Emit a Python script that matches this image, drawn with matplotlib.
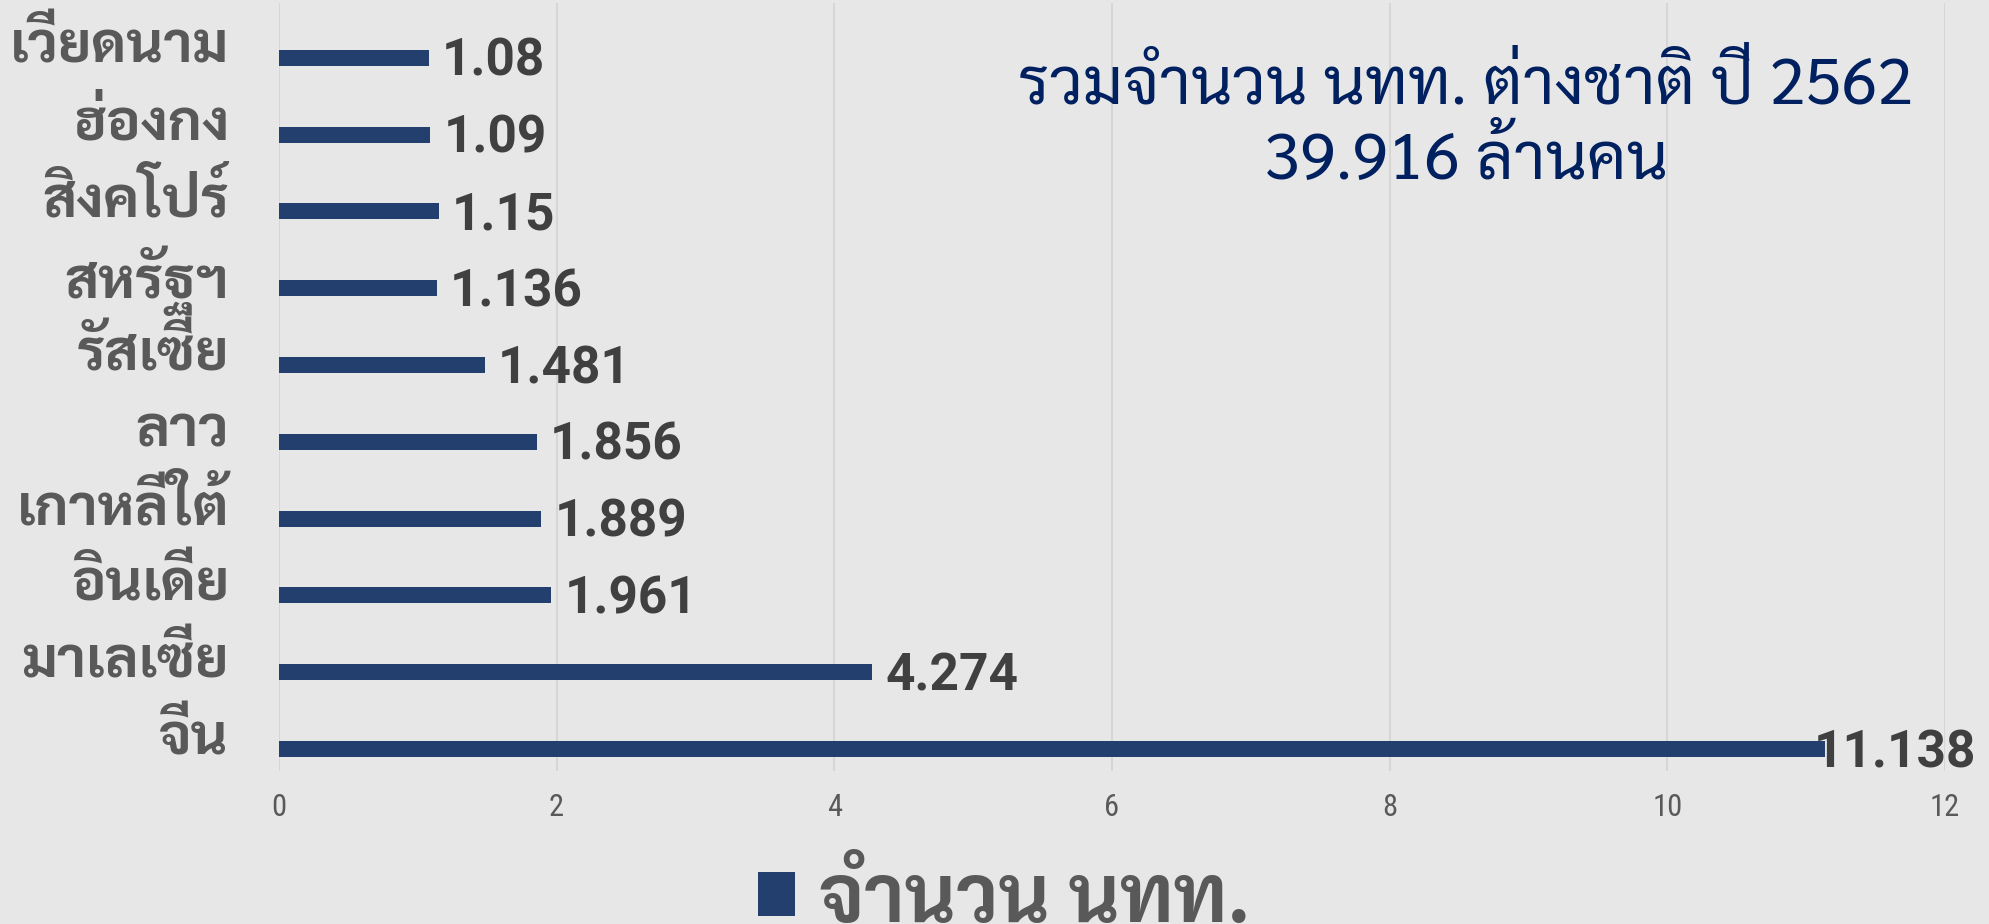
import matplotlib
matplotlib.use("Agg")
import matplotlib.pyplot as plt

# ---- data ----
countries = ["จีน", "มาเลเซีย", "อินเดีย", "เกาหลีใต้", "ลาว",
             "รัสเซีย", "สหรัฐฯ", "สิงคโปร์", "ฮ่องกง", "เวียดนาม"]
visitors = [11.138, 4.274, 1.961, 1.889, 1.856, 1.481, 1.136, 1.15, 1.09, 1.08]
value_labels = ["11.138", "4.274", "1.961", "1.889", "1.856",
                "1.481", "1.136", "1.15", "1.09", "1.08"]
x_ticks = [0, 2, 4, 6, 8, 10, 12]
series_name = "จำนวน นทท."
title_lines = ["รวมจำนวน นทท. ต่างชาติ ปี 2562", "39.916 ล้านคน"]

BG = "#e7e7e7"
BAR = "#223f6e"
GRAY = "#595959"
DARK = "#404040"
NAVY = "#002060"
THAI = ["Sarabun", "DejaVu Sans"]
NUM = ["Roboto", "DejaVu Sans"]
TICK = ["Roboto Condensed", "DejaVu Sans"]

W, H, DPI = 1990, 924, 100
fig = plt.figure(figsize=(W / DPI, H / DPI), dpi=DPI, facecolor=BG)
ax = fig.add_axes([279 / W, 1 - 771 / H, (1945 - 279) / W, (771 - 3) / H])
ax.set_facecolor(BG)

ypos = list(range(len(countries)))
bars = ax.barh(ypos, visitors, height=0.21, color=BAR, label=series_name, zorder=3)

ax.set_xlim(0, 12)
ax.set_ylim(-0.286, 9.714)
ax.set_xticks(x_ticks)
ax.set_xticklabels([str(t) for t in x_ticks], family=TICK, fontsize=22, color=GRAY)
ax.tick_params(axis="x", length=0, pad=16)
ax.xaxis.grid(True, color="#d6d6d6", linewidth=1.4, zorder=0)
ax.set_axisbelow(True)
ax.set_yticks([y + 0.21 for y in ypos])
ax.set_yticklabels(countries, family=THAI, fontsize=41, fontweight="bold", color=GRAY)
ax.tick_params(axis="y", length=0, pad=36)
for s in ax.spines.values():
    s.set_visible(False)

# value labels
for rect, lab, v in zip(bars, value_labels, visitors):
    yc = rect.get_y() + rect.get_height() / 2
    dx = -12 if v > 10 else 13
    ax.annotate(lab, xy=(v, yc), xytext=(dx * 72 / DPI, -4 * 72 / DPI),
                textcoords="offset points", ha="left", va="center",
                family=NUM, fontsize=37, fontweight="bold", color=DARK, zorder=4)

# title box
fig.text(1466 / W, 1 - 104 / H, title_lines[0], ha="center", va="baseline",
         family=THAI, fontsize=47, color=NAVY)
fig.text(1466 / W, 1 - 179 / H, title_lines[1], ha="center", va="baseline",
         family=THAI, fontsize=47, color=NAVY)

# legend
leg = fig.legend(handles=[bars], labels=[series_name], loc="center",
                 bbox_to_anchor=(1004 / W, 1 - 902 / H), frameon=False,
                 prop={"family": THAI, "size": 57, "weight": "bold"},
                 handlelength=0.47, handleheight=0.47, handletextpad=0.3)
for t in leg.get_texts():
    t.set_color(GRAY)

fig.savefig("out.png", dpi=DPI, facecolor=BG)
